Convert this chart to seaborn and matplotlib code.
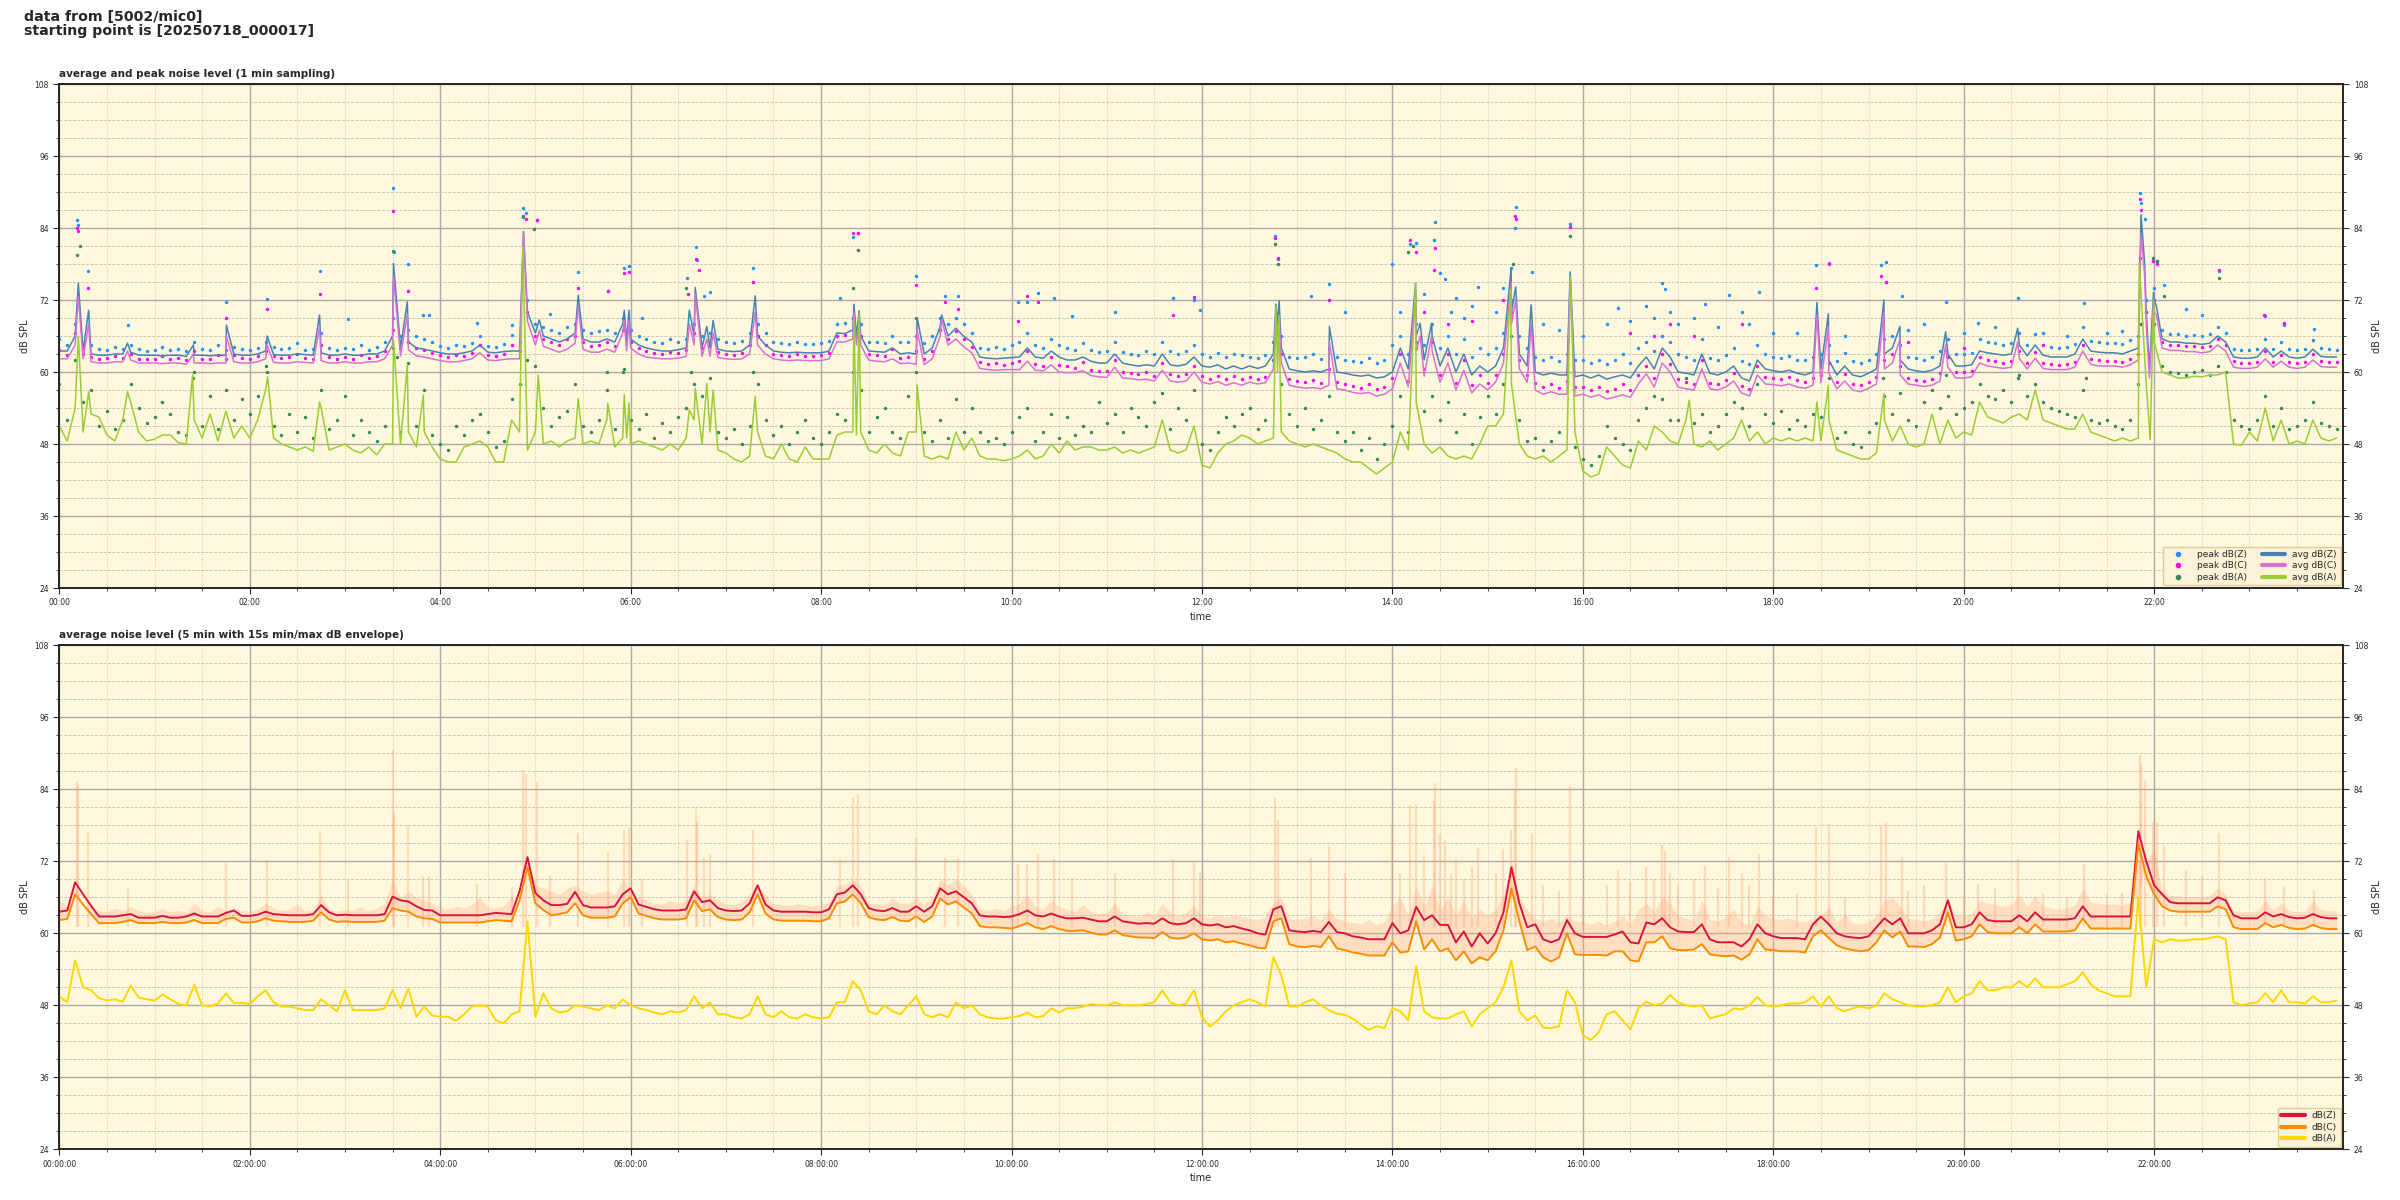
import numpy as np
import matplotlib
matplotlib.use("Agg")
import matplotlib.pyplot as plt
from matplotlib.ticker import MultipleLocator, FuncFormatter
from matplotlib.lines import Line2D
import seaborn as sns

# ---------------- data (minutes after 00:00) ----------------
t5 = np.arange(0, 1440, 5)  # 5-min grid, 288 points

# top panel: 1-min averages, read on a 5-min grid (one row = one hour)
avg_z = [
    63.5, 63.5, 66, 63.5, 63, 62.8, 62.8, 63, 63, 63.3, 62.8, 62.8,
    62.8, 62.7, 62.8, 62.8, 62.6, 62.8, 62.8, 62.7, 62.8, 62.8, 63.0, 62.8,
    62.8, 63, 63.5, 62.9, 62.8, 62.8, 63, 62.9, 62.8, 63.2, 62.8, 62.8,
    63, 62.8, 62.8, 63, 63, 63.5, 66, 64, 65, 64, 63.8, 63.5,
    63.2, 63, 63, 63.2, 63.5, 64.5, 63.3, 63.2, 63.4, 63.5, 63.5, 70,
    66.5, 66, 65.5, 65, 65.5, 66.5, 65.5, 65, 65, 65.5, 65, 68,
    65.5, 64.5, 64, 63.7, 63.5, 63.5, 63.7, 64, 66, 64, 64, 63.8,
    63.5, 63.4, 63.5, 64.5, 66, 64.5, 63.5, 63.3, 63.2, 63.3, 63.2, 63.2,
    63.2, 63.5, 66.5, 66.4, 67, 66, 63.5, 63.4, 63.3, 64, 63, 63.2,
    63, 63, 64, 67.5, 66, 67.3, 65.9, 65, 62.5, 62.3, 62.2, 62.3,
    62.4, 62.5, 64, 62.5, 62.3, 63.5, 62.5, 62, 62, 62.5, 61.8, 61.5,
    61.5, 63, 61.5, 61.2, 61, 61.2, 61, 63, 61.2, 61, 61.3, 62.5,
    61, 60.8, 61.2, 60.5, 61, 60.5, 61, 60.6, 61, 63, 64, 60.5,
    60.2, 60, 60.2, 60, 60.5, 60, 59.8, 59.5, 59.3, 59.5, 59, 59.2,
    60, 64, 60.5, 66, 62, 66, 61, 64, 60, 63, 59.5, 61,
    60, 61, 64, 70, 63, 61, 60, 59.5, 59.8, 59.5, 59.5, 59.2,
    59.5, 59, 59.5, 58.8, 59.2, 59.5, 59, 61, 62.5, 60.5, 64, 62.5,
    60, 59.8, 59.5, 63, 59.8, 59.5, 60, 61, 59, 58.5, 62, 60.5,
    60.2, 60, 60.3, 59.8, 59.5, 60, 60.5, 62, 59.5, 61, 59.5, 59.2,
    59.8, 60.5, 63, 64, 62, 60.5, 60.2, 60, 60.3, 61, 63, 61,
    61, 61.2, 63.5, 63.2, 63, 62.8, 63, 64.5, 62.7, 64.5, 62.8, 62.5,
    62.5, 62.5, 63, 65.5, 63.5, 63.3, 63.2, 63.2, 63, 63.5, 64, 70,
    72, 65.5, 65, 65, 64.8, 64.8, 64.6, 64.8, 66, 65, 62.5, 62.3,
    62.3, 62.5, 64, 62.5, 63.5, 62.5, 62.3, 62.5, 63.8, 62.6, 62.5, 62.5,
]
avg_c = [
    62.2, 62.2, 64.5, 62.2, 61.7, 61.5, 61.5, 61.7, 61.7, 62, 61.5, 61.5,
    61.5, 61.4, 61.5, 61.5, 61.3, 61.5, 61.5, 61.4, 61.5, 61.5, 61.7, 61.5,
    61.5, 61.7, 62.2, 61.6, 61.5, 61.5, 61.7, 61.6, 61.5, 61.9, 61.5, 61.5,
    61.7, 61.5, 61.5, 61.7, 61.7, 62.2, 64.5, 62.7, 63.7, 62.7, 62.5, 62.2,
    61.9, 61.7, 61.7, 61.9, 62.2, 63.2, 62, 61.9, 62.1, 62.2, 62.2, 68.5,
    64.5, 64.3, 63.8, 63.3, 63.8, 64.8, 63.8, 63.3, 63.3, 63.8, 63.3, 66.5,
    64, 63, 62.5, 62.3, 62.2, 62.2, 62.3, 62.6, 64.5, 62.6, 62.6, 62.4,
    62.2, 62.1, 62.2, 63, 64.5, 63, 62.2, 62, 61.9, 62, 61.9, 61.9,
    61.9, 62.2, 65, 65, 65.5, 64.5, 62, 61.8, 61.7, 62.2, 61.4, 61.5,
    61.3, 61.2, 62.2, 66, 64.5, 65.5, 64.2, 63.2, 60.6, 60.4, 60.3, 60.4,
    60.4, 60.4, 61.8, 60.3, 60.2, 61.2, 60, 59.9, 59.9, 60.2, 59.4, 59.2,
    59.1, 60.8, 59, 58.9, 58.7, 58.8, 58.5, 60.3, 58.5, 58.3, 58.5, 60,
    58.3, 58, 58.4, 57.8, 58.2, 57.8, 58.3, 58, 58.2, 60.5, 61.5, 57.8,
    57.5, 57.3, 57.4, 57.2, 57.8, 57.2, 57, 56.6, 56.4, 56.6, 56, 56.3,
    57.2, 61.5, 57.5, 63.5, 59.3, 63.5, 58.3, 61.5, 57, 60.3, 56.5, 58,
    57, 58.3, 61.5, 68, 60.5, 58.3, 57, 56.3, 56.7, 56.3, 56.3, 56,
    56.3, 55.8, 56.2, 55.5, 55.8, 56.2, 55.8, 58, 59.7, 57.5, 61.5, 60,
    57.5, 57.2, 57, 60.5, 57.2, 57, 57.5, 58.5, 56.5, 56, 59.5, 58,
    57.9, 57.7, 58, 57.5, 57.3, 57.8, 58.2, 59.8, 57.2, 58.5, 57, 56.7,
    57.3, 58, 60.5, 61.5, 59.5, 58, 57.8, 57.6, 57.8, 58.5, 60.8, 59,
    59, 59.2, 61.5, 61, 60.8, 60.6, 60.8, 62.3, 60.5, 62.3, 60.6, 60.4,
    60.4, 60.4, 60.8, 63.5, 61.3, 61, 61, 61, 60.8, 61.2, 62, 68,
    70, 64, 63.6, 63.6, 63.4, 63.4, 63.2, 63.4, 64.5, 63.5, 60.8, 60.6,
    60.6, 60.8, 62.2, 60.8, 61.8, 60.8, 60.6, 60.8, 62, 60.9, 60.8, 60.8,
]
avg_a = [
    51, 48.5, 54, 50, 53, 52.5, 49.5, 48.5, 52, 55, 50, 48.5,
    48.8, 49.5, 49.5, 48.2, 48, 52, 49, 53, 48.5, 53.5, 49, 51,
    49, 52, 57, 49, 48, 47.5, 47, 47.5, 46.8, 54, 47, 47.5,
    48, 47, 46.5, 47.5, 46.2, 48, 48, 48, 50, 47.5, 50, 47.5,
    45.5, 45, 45, 47.5, 48, 48.5, 47.5, 45, 45, 52, 50, 47,
    50, 48, 48.5, 47.5, 48.5, 49, 48, 48.5, 48, 52, 47.5, 49,
    48, 48.5, 48, 47.5, 47, 48, 47, 49, 52, 48, 50, 47,
    46.5, 45.5, 45, 46, 50, 46, 45.5, 48, 45.5, 45, 47.5, 45.5,
    45.5, 45.5, 49.5, 50, 50, 50, 47, 46.5, 48, 46.5, 46, 50,
    50, 46, 45.5, 46, 45.5, 50, 47, 49, 46, 45.5, 45.5, 45.2,
    45.5, 46, 47, 45.5, 46, 48, 46.5, 48.5, 47, 47.5, 47.5, 47,
    47, 47.5, 46.5, 47, 46.5, 47, 47.5, 52, 47, 46.5, 47, 51,
    44.5, 44, 46.5, 48, 48.5, 49.5, 49, 48, 48.5, 49, 50, 48.5,
    48, 47.5, 48, 47.5, 47, 46.5, 45.5, 45, 45, 44, 43, 44,
    45, 50, 47, 55, 48, 46.5, 47.5, 46, 45.5, 46, 45.5, 48,
    51, 51, 53, 58, 48, 46, 45.5, 46, 45, 46, 47, 50,
    43.5, 42.5, 43, 47.5, 46, 44.5, 44, 48.5, 47, 51, 50, 48.5,
    48, 52, 48, 47.5, 48.5, 47, 48, 49, 52, 48.5, 50, 48,
    49, 48.5, 49, 48.5, 49, 48.5, 48.5, 52, 47, 46.5, 46, 45.5,
    45.5, 46.5, 52, 48.5, 51, 48, 47.5, 48, 53, 48, 52, 49,
    50, 49.5, 55, 52.5, 52, 51.5, 52.5, 53, 52, 57, 52, 51.5,
    51, 50.5, 50.5, 53, 50, 49.5, 49, 48.5, 49, 48.5, 49, 58,
    65, 60, 59.5, 59, 59, 59.3, 59.2, 59.5, 59.5, 60, 48, 47.8,
    50, 48.5, 54, 48.5, 52, 48, 48.5, 48, 52, 49, 48.5, 49,
]

# short spikes of the 1-min averages (minute, dB)
spk_z_t = [12, 18.5, 43, 84.5, 105.3, 131, 164, 210.6, 219.3, 292.5, 302.5, 327, 356, 357.5, 359,
           397, 400.7, 408, 412, 438.5, 500.7, 502.3, 504, 540.5, 556, 766.6, 767.6, 768.6, 800.3,
           854.6, 857.5, 864.7, 914.8, 917.7, 927.4, 952, 1107.5, 1114.7, 1149.7, 1159.8, 1188.6,
           1234, 1311.7, 1314, 1317, 1319.6, 1321.4]
spk_z_v = [74.8, 70.3, 64.8, 64.5, 67.8, 66, 69.5, 78.1, 71.7, 83.4, 68.7, 72.8, 70.3, 65, 70.3,
           70.3, 74.1, 67.6, 68.6, 72.7, 71.3, 66, 70.2, 69.1, 69.5, 71.3, 68, 71.9, 67.6,
           74.8, 68.1, 68.1, 77.3, 74.2, 71.2, 76.7, 71.6, 69.7, 72, 67.6, 66.7,
           67.3, 86.2, 78, 60.5, 73.2, 71]
spk_c_t = spk_z_t
spk_c_v = [72.6, 68, 63.5, 63, 66, 64.5, 67.5, 76, 69.5, 83, 67, 71, 68.5, 63.5, 68.5,
           68, 73, 65.5, 66.5, 70, 70, 64.5, 69, 67, 68.7, 69, 66, 69.5, 65,
           73, 66, 66, 75, 72, 68, 75.5, 69.5, 67.5, 70, 65.5, 64.5,
           65, 83.1, 76, 59, 71.5, 69.5]
spk_a_t = [12, 18.5, 43, 84, 131.3, 164, 210.6, 219.3, 229.4, 292.1, 301.8, 327, 345.6, 356, 357.5,
           359, 397, 400.7, 408, 412, 438.5, 500.7, 502.3, 504, 540.5, 766.6, 767.6, 768.5, 854.6,
           914.6, 952.2, 1027, 1107.5, 1114.7, 1149.7, 1310.6, 1317.5, 1319.6]
spk_a_v = [66, 56.7, 56.7, 59.5, 59.2, 55, 65.3, 61.2, 56.2, 80.9, 59.5, 55.6, 54.8, 56.2, 49,
           54.8, 53.7, 57.3, 58.1, 57, 55.9, 68.7, 49.5, 69.8, 57.8, 70.9, 60, 69.2, 74.8,
           73.7, 75.9, 55.3, 55, 57.8, 56.4, 78.1, 48.7, 72]

# top panel: 1-min peaks, read on the 5-min grid
peak_z = [
    65.5, 64.5, 68, 64.5, 64.5, 63.8, 63.6, 64.2, 63.8, 64.5, 63.8, 63.5,
    63.6, 64.2, 63.6, 63.8, 63.5, 65, 63.8, 63.6, 64.5, 63.6, 64.2, 63.8,
    63.7, 64, 65, 64.2, 63.8, 64, 64.8, 63.7, 63.8, 66.5, 64, 63.7,
    64, 63.8, 64.5, 63.7, 64.2, 65, 69, 66, 67, 66, 65.5, 65,
    64.3, 64, 64.5, 64.3, 64.8, 66, 64.4, 64.2, 64.6, 66.2, 65, 72,
    68, 67.5, 67, 66.5, 67.5, 68, 67, 66.5, 66.8, 67, 66.5, 69,
    67, 66, 65.5, 65, 64.8, 65.5, 65, 65.5, 68, 66, 66.5, 65.5,
    65, 64.8, 65.2, 66.5, 68, 66.5, 65, 64.8, 64.6, 65, 64.7, 64.6,
    64.8, 65.2, 68, 68.2, 69, 68, 65, 65, 64.8, 66, 65, 65,
    66, 64.8, 66, 69, 68, 69, 68, 66.5, 64, 63.8, 64.2, 63.8,
    64.5, 65, 66.5, 64.5, 64, 65.5, 64.5, 64, 63.6, 64.8, 63.6, 63.3,
    63.5, 65, 63.3, 63, 62.8, 63.5, 63, 65, 63.5, 63, 63.5, 64.5,
    63, 62.5, 63.2, 62.5, 63, 62.8, 62.5, 62.3, 62.8, 65, 66, 62.5,
    62.3, 62.5, 63, 62.2, 64, 62.5, 62, 61.8, 61.6, 62.3, 61.5, 62,
    64.5, 66, 63, 68, 64.5, 68, 64, 66, 63, 65.5, 62.5, 64,
    63, 64, 66.5, 72, 66, 64, 62.5, 62, 62.5, 61.8, 63, 62,
    62, 61.5, 62, 61.3, 62, 63, 61.5, 64, 65, 63.5, 66, 65,
    63, 62.5, 62, 65.5, 62.3, 62, 62.8, 64, 61.8, 61.3, 64.5, 63,
    62.5, 62.3, 62.6, 62, 62, 62.5, 63, 64.5, 61.8, 63.2, 61.8, 61.5,
    62, 63, 65.5, 66, 64.5, 62.5, 62.3, 62, 62.5, 63.5, 65.5, 63,
    63, 63.2, 65.5, 65, 64.8, 64.5, 64.8, 66.5, 64.5, 66.3, 64.5, 64.2,
    64, 64.2, 64.7, 67.5, 65.2, 65, 64.8, 64.9, 64.6, 65.3, 66, 72,
    74, 67, 66.3, 66.3, 66, 66.2, 66, 66.3, 67.5, 66.5, 63.8, 63.6,
    63.6, 63.8, 65.5, 63.8, 65, 63.8, 63.6, 63.8, 65.3, 64, 63.8, 63.7,
]
peak_c = [
    63.6, 62.9, 66.5, 63, 62.5, 62.2, 62.3, 62.6, 62.4, 63, 62.2, 62.2,
    62.2, 62.6, 62.2, 62.3, 62, 63.5, 62.2, 62.1, 62.8, 62.2, 62.8, 62.3,
    62.2, 62.6, 63.5, 62.6, 62.3, 62.5, 63, 62.3, 62.2, 64.5, 62.5, 62.2,
    62.5, 62.2, 62.8, 62.3, 62.6, 63.5, 67, 64, 65, 64, 63.6, 63.2,
    62.8, 62.5, 62.9, 62.7, 63.2, 64.5, 62.8, 62.6, 63, 64.5, 63.5, 70,
    66, 65.5, 65, 64.5, 65.5, 66, 65, 64.3, 64.5, 65, 64.4, 67,
    65, 64, 63.5, 63.2, 63, 63.4, 63.2, 63.6, 66.5, 64, 64.5, 63.4,
    63, 62.9, 63.2, 64.5, 66, 64.5, 63, 62.8, 62.6, 63, 62.7, 62.6,
    62.8, 63.2, 66, 66.2, 67, 66, 63, 62.8, 62.6, 63.8, 62.4, 62.5,
    63.5, 62.2, 63.5, 67, 65.5, 66.8, 65.5, 64.2, 61.6, 61.3, 61.5, 61.2,
    61.5, 61.8, 63.5, 61.3, 61, 62.5, 61.2, 61, 60.7, 61.6, 60.4, 60.2,
    60.2, 62, 60, 59.8, 59.6, 60, 59.4, 61.5, 59.6, 59.3, 59.7, 61,
    59.3, 58.9, 59.4, 58.8, 59.4, 58.8, 59.2, 58.9, 59.2, 62, 63, 58.8,
    58.5, 58.3, 58.6, 58.2, 60.5, 58.3, 58, 57.6, 57.4, 58, 57.2, 57.5,
    59, 63, 58.5, 65, 60.5, 65, 59.5, 63, 58.2, 62, 57.8, 59.5,
    58.2, 59.5, 63, 70, 62, 59.5, 58.2, 57.5, 58, 57.4, 58.5, 57.5,
    57.5, 57, 57.5, 56.8, 57.2, 58, 57, 59.5, 61, 59, 63, 61.3,
    58.8, 58.3, 58, 62, 58.2, 58, 58.6, 59.8, 57.6, 57.2, 61, 59.2,
    59, 58.8, 59.2, 58.6, 58.3, 59, 59.5, 61.5, 58.3, 59.6, 58, 57.8,
    58.3, 59.2, 62, 63, 61, 59, 58.7, 58.5, 58.8, 59.8, 62.5, 60,
    60, 60.2, 62.5, 62, 61.8, 61.5, 61.8, 63.5, 61.5, 63.3, 61.5, 61.3,
    61.2, 61.3, 61.7, 64.5, 62.2, 62, 61.8, 61.9, 61.6, 62.2, 63, 70,
    72, 65, 64.5, 64.5, 64.3, 64.4, 64.2, 64.4, 65.5, 64.5, 61.8, 61.5,
    61.5, 61.7, 63.5, 61.7, 62.8, 61.7, 61.5, 61.7, 63, 61.8, 61.6, 61.6,
]
peak_a = [
    58, 52, 62, 55, 57, 51, 53.5, 50.5, 52, 58, 54, 51.5,
    52.5, 55, 53, 50, 49.5, 60, 51, 56, 50.5, 57, 52, 55.5,
    53, 56, 61, 51, 49.5, 53, 50, 52.5, 49, 57, 50.5, 52,
    56, 49.5, 52, 50, 48.5, 51, 64, 50, 61.5, 51, 57, 49.5,
    48, 47, 51, 49.5, 52, 53, 50, 47.5, 48.5, 55.5, 58, 62,
    61, 54, 51, 52.5, 53.5, 58, 51, 50, 52, 57, 50.5, 60,
    52, 50.5, 53, 49, 51.5, 50, 52.5, 54, 58, 56, 59, 50,
    49, 50.5, 48, 51, 58, 52, 49.5, 51, 48, 50, 52, 49,
    48, 50, 53, 52, 60, 57, 50, 52.5, 54, 50, 49, 56,
    60, 50, 48.5, 52, 49, 55.5, 50, 54, 50, 48.5, 49, 48,
    50, 52.5, 54, 48.5, 50, 53, 49, 52.5, 49.5, 51, 50, 55,
    51.5, 53, 50, 54, 52.5, 51, 55, 56.5, 50.5, 54, 52, 57,
    48, 47, 50, 52.5, 51, 53, 54, 50.5, 52, 62, 58, 53,
    51, 54, 50.5, 52, 56, 50, 48.5, 50, 47, 49, 45.5, 48,
    51, 56, 50, 64, 53.5, 56, 52, 55, 50, 53, 48, 52.5,
    56, 53, 58, 66, 52, 48.5, 49, 47, 48.5, 50, 60, 47.5,
    45.5, 44.5, 46, 51, 49, 48, 47, 52, 54, 56, 55.5, 52,
    52, 59, 51.5, 53, 50, 51, 53, 55, 54, 51, 58, 53,
    51.5, 53.5, 50.5, 52, 51, 53, 52.5, 59, 49, 50, 48, 47.5,
    50, 51.5, 56, 53, 56.5, 52, 51, 55, 57, 54, 56, 53,
    54, 55, 58, 56, 55.5, 57, 55, 59.5, 56, 58, 55, 54,
    53.5, 53, 52.5, 57, 52, 51.5, 52, 51, 50.5, 52, 58, 70,
    68, 61, 60, 59.8, 59.5, 60, 60.3, 59.5, 61, 60, 52, 51,
    50.5, 52, 56, 51, 54, 50.5, 51, 52, 55, 51.5, 51, 50.5,
]
# isolated loud 1-min peaks (minute, dB)
out_z_t = [11, 12, 18, 43, 105, 131, 164, 182, 210, 211, 219.5, 229, 233, 263, 285, 292.5, 294, 301,
           309, 327, 345.6, 356, 359, 367, 395.7, 401, 402, 406, 410, 437, 492, 500, 503, 540, 558,
           566, 604, 610, 617, 627, 638, 665, 702, 715, 719, 766, 768, 789, 800, 810, 840, 845, 851,
           855, 860, 866, 867, 870, 873, 877, 880, 885, 890, 894, 905, 910, 915, 917, 918, 928, 935,
           945, 952, 960, 975, 982, 990, 1000, 1005, 1010, 1012, 1015, 1020, 1030, 1037, 1045, 1052,
           1060, 1065, 1071, 1080, 1095, 1107, 1115, 1125, 1148, 1151, 1161, 1165, 1175, 1189, 1200,
           1209, 1220, 1234, 1250, 1265, 1276, 1290, 1300, 1311, 1312, 1314, 1319, 1322, 1326, 1340,
           1350, 1361, 1390, 1402, 1421]
out_z_v = [85.3, 84.5, 76.9, 67.8, 71.7, 72.2, 76.9, 68.9, 90.6, 80.0, 78.0, 69.5, 69.5, 68.2, 67.8, 87.3, 86.5, 85.3,
           69.7, 76.7, 73.5, 77.3, 77.6, 69.0, 75.6, 80.8, 78.6, 72.6, 73.3, 77.3, 72.4, 82.5, 83.2, 76.0, 72.6,
           72.6, 71.6, 71.6, 73.2, 72.4, 69.3, 70.0, 72.4, 72.0, 70.3, 82.6, 78.9, 72.6, 74.6, 70.0, 78.0, 70, 81.4,
           81.5, 73, 82.0, 85.0, 76.5, 75.5, 70, 72.4, 69, 71, 74.2, 70, 74, 77.3, 84.0, 87.5, 76.7, 68,
           67, 84.6, 66, 68, 70.6, 68.5, 71, 69, 74.8, 73.8, 70, 68, 69, 71.3, 67.5, 72.8,
           70, 68, 73.3, 66.5, 66.5, 77.8, 78.2, 66, 77.9, 78.4, 72.7, 67, 68, 71.7, 66.5,
           68.2, 67.5, 72.4, 66.5, 66, 71.5, 66.5, 66.8, 89.8, 88.1, 85.5, 78.5, 78.5, 74.5, 70.5,
           69.5, 76.8, 69.3, 67.8, 67.2]
out_c_t = [11, 12, 18, 105, 131, 164, 210, 219.5, 292.5, 294, 301, 327, 345.6, 356, 359, 396, 401, 403,
           437, 500, 503, 540, 558, 566, 604, 610, 617, 702, 715, 766, 768, 800, 851, 855, 860, 866,
           867, 875, 890, 910, 917, 918, 952, 990, 1005, 1015, 1030, 1060, 1107, 1115, 1148, 1151,
           1165, 1200, 1250, 1311, 1312, 1319, 1322, 1361, 1389, 1402]
out_c_v = [84.0, 83.5, 74.0, 69.0, 70.5, 73.0, 86.8, 73.5, 86.0, 85.5, 85.3, 74.0, 73.5, 76.5, 76.7, 73.0, 78.8, 77.0,
           75.0, 83.2, 83.2, 74.5, 71.6, 70.5, 68.5, 72.6, 71.6, 69.5, 72.5, 82.3, 79.0, 72.0, 82.0, 80.0, 70, 77.0,
           80.7, 68, 68.5, 72, 86.0, 85.5, 84.2, 66.5, 66, 68, 66, 68, 74.0, 78.0, 76.0, 75.0,
           65, 64, 64.5, 88.8, 87.0, 78.5, 78.0, 77.0, 69.5, 68.2]
out_a_t = [11, 13, 84, 131, 210.5, 213, 292.5, 299, 345, 356, 395, 398, 437, 500, 503, 540, 766, 768,
           850, 853, 916, 952, 1149, 1189, 1234, 1277, 1311, 1312, 1319, 1322, 1326, 1361]
out_a_v = [79.5, 81, 59, 60, 80.2, 62.5, 85.8, 83.9, 60, 60.5, 74, 60, 60, 74, 80.3, 69, 81.3, 78,
           80, 81, 78, 82.6, 59, 59.5, 59, 59, 79, 68, 79, 78.5, 72.7, 75.6]

# bottom panel: 5-min averages
bot_z = [
    63.6, 63.8, 68.5, 66.5, 64.6, 62.8, 62.8, 62.8, 63.0, 63.2, 62.6, 62.6,
    62.6, 62.9, 62.6, 62.6, 62.8, 63.3, 62.8, 62.8, 62.8, 63.4, 63.8, 62.9,
    62.9, 63.1, 63.6, 63.2, 63.1, 63.0, 63.0, 63.0, 63.2, 64.7, 63.5, 63.0,
    63.1, 63.0, 63.0, 63.0, 63.0, 63.2, 66.1, 65.5, 65.3, 64.5, 63.9, 63.8,
    63.0, 63.0, 63.0, 63.0, 63.0, 63.0, 63.2, 63.4, 63.3, 63.2, 67.0, 72.7,
    66.7, 65.5, 64.7, 64.7, 64.9, 66.9, 64.7, 64.3, 64.3, 64.3, 64.5, 66.5,
    67.5, 64.8, 64.4, 64.0, 63.8, 63.8, 63.8, 64.0, 67.0, 65.2, 65.5, 64.2,
    63.8, 63.7, 63.8, 65.0, 68.0, 64.8, 63.8, 63.6, 63.6, 63.6, 63.6, 63.5,
    63.5, 64.0, 66.5, 66.8, 68.0, 66.5, 64.2, 63.8, 63.7, 64.2, 63.6, 63.6,
    64.5, 63.6, 64.5, 67.5, 66.5, 67.0, 66.0, 65.0, 63.0, 62.8, 62.8, 62.7,
    62.8, 63.2, 63.8, 63.0, 62.8, 63.3, 62.8, 62.5, 62.5, 62.6, 62.3, 62.0,
    62.0, 62.8, 62.0, 61.8, 61.6, 61.7, 61.6, 62.5, 61.7, 61.5, 61.7, 62.5,
    61.5, 61.3, 61.5, 61.0, 61.2, 60.8, 60.5, 60.0, 59.8, 64.0, 64.5, 60.5,
    60.3, 60.2, 60.4, 60.2, 61.9, 60.2, 60.0, 59.5, 59.3, 59.0, 59.0, 59.0,
    61.7, 60.0, 60.5, 64.4, 62.2, 63.0, 61.4, 61.4, 58.5, 60.3, 57.8, 60.0,
    58.3, 60.0, 63.5, 71.0, 65.0, 61.0, 61.5, 59.0, 58.5, 59.0, 62.2, 60.0,
    59.4, 59.4, 59.4, 59.4, 59.8, 60.3, 58.5, 58.3, 61.8, 61.5, 62.5, 61.0,
    60.3, 60.2, 60.2, 61.5, 59.0, 58.5, 58.5, 58.5, 57.8, 59.0, 61.5, 60.0,
    59.5, 59.2, 59.2, 59.2, 59.0, 61.5, 62.8, 61.5, 60.0, 59.5, 59.3, 59.2,
    59.5, 61.0, 62.5, 61.5, 62.5, 60.0, 60.0, 60.0, 60.5, 61.5, 65.5, 61.0,
    61.0, 61.5, 63.5, 62.2, 62.0, 62.0, 62.0, 63.0, 62.0, 63.5, 62.3, 62.3,
    62.3, 62.3, 62.5, 64.5, 62.8, 62.8, 62.8, 62.8, 62.8, 62.8, 77.0, 72.0,
    68.0, 66.5, 65.2, 65.0, 65.0, 65.0, 65.0, 65.0, 66.0, 65.5, 63.0, 62.5,
    62.5, 62.5, 63.5, 62.8, 63.2, 62.7, 62.5, 62.6, 63.2, 62.7, 62.5, 62.5,
]
bot_c = [
    62.2, 62.4, 66.5, 64.8, 63.2, 61.7, 61.7, 61.7, 61.9, 62.2, 61.7, 61.7,
    61.7, 61.9, 61.7, 61.7, 61.8, 62.2, 61.7, 61.7, 61.7, 62.4, 62.6, 61.8,
    61.8, 62.0, 62.5, 62.1, 62.0, 61.9, 61.9, 61.9, 62.1, 63.5, 62.3, 61.9,
    62.0, 61.9, 61.9, 61.9, 61.9, 62.1, 64.2, 63.8, 63.6, 62.8, 62.5, 62.4,
    61.8, 61.8, 61.8, 61.8, 61.8, 61.8, 62.0, 62.2, 62.1, 62.0, 65.5, 71.0,
    65.0, 63.9, 63.0, 63.2, 63.5, 65.0, 63.0, 62.6, 62.6, 62.6, 62.8, 65.0,
    66.0, 63.3, 62.9, 62.5, 62.3, 62.3, 62.3, 62.5, 65.5, 63.7, 64.0, 62.7,
    62.3, 62.2, 62.3, 63.5, 66.5, 63.3, 62.3, 62.1, 62.1, 62.1, 62.1, 62.0,
    62.0, 62.5, 65.0, 65.3, 66.5, 65.0, 62.7, 62.3, 62.2, 62.7, 62.1, 62.0,
    62.8, 61.9, 62.8, 65.8, 64.8, 65.3, 64.3, 63.3, 61.2, 61.0, 61.0, 60.9,
    60.8, 61.2, 61.7, 61.0, 60.7, 61.2, 60.7, 60.4, 60.4, 60.5, 60.1, 59.8,
    59.8, 60.5, 59.7, 59.5, 59.3, 59.3, 59.2, 60.2, 59.3, 59.1, 59.3, 60.0,
    59.0, 58.8, 59.0, 58.5, 58.7, 58.3, 58.0, 57.6, 57.5, 62.0, 62.5, 58.2,
    57.8, 57.7, 57.9, 57.7, 59.5, 57.5, 57.2, 56.8, 56.6, 56.3, 56.3, 56.3,
    58.5, 56.8, 57.0, 62.0, 57.3, 59.0, 57.0, 57.5, 55.5, 57.0, 55.0, 56.0,
    55.5, 57.0, 60.5, 67.5, 62.0, 57.2, 57.8, 56.0, 55.3, 56.0, 60.0, 56.5,
    56.4, 56.4, 56.4, 56.3, 57.0, 57.0, 55.5, 55.3, 58.5, 58.5, 59.5, 57.5,
    57.2, 57.2, 57.3, 58.2, 56.5, 56.3, 56.2, 56.3, 55.6, 56.5, 59.0, 57.3,
    57.2, 57.0, 57.0, 57.0, 56.8, 59.5, 60.5, 59.2, 58.0, 57.5, 57.2, 57.0,
    57.2, 58.5, 60.5, 59.3, 60.3, 57.8, 57.8, 57.7, 58.2, 59.3, 63.5, 58.8,
    59.0, 59.5, 61.5, 60.2, 60.0, 60.0, 60.0, 61.0, 60.0, 61.5, 60.3, 60.3,
    60.3, 60.3, 60.5, 62.5, 60.8, 60.8, 60.8, 60.8, 60.8, 60.8, 75.0, 69.5,
    66.5, 64.5, 63.8, 63.6, 63.6, 63.6, 63.6, 63.6, 64.5, 64.0, 61.0, 60.7,
    60.7, 60.7, 61.7, 61.0, 61.4, 60.9, 60.7, 60.8, 61.4, 60.9, 60.7, 60.7,
]
bot_a = [
    49.5, 48.5, 55.5, 51, 50.5, 49.2, 48.8, 49.0, 48.6, 51.3, 49.3, 49.0,
    48.8, 49.8, 49.0, 48.2, 48.0, 51.4, 48.0, 47.8, 48.3, 50.0, 48.4, 48.4,
    48.2, 49.5, 50.5, 48.5, 47.8, 47.8, 47.5, 47.2, 47.2, 49.0, 48.0, 47.0,
    50.5, 47.2, 47.2, 47.2, 47.2, 47.5, 50.5, 47.5, 50.8, 46.1, 47.8, 46.3,
    46.1, 46.1, 45.4, 46.5, 47.8, 48.0, 47.8, 45.5, 45.0, 46.5, 47.0, 62.0,
    46.1, 50.0, 47.5, 46.8, 47.0, 48.0, 47.8, 47.5, 47.2, 48.0, 47.5, 49.0,
    48.0, 47.5, 47.2, 46.8, 46.5, 47.0, 46.8, 47.2, 49.5, 47.5, 48.5, 46.5,
    46.5, 46.0, 45.8, 46.5, 49.5, 46.5, 46.0, 47.0, 46.0, 45.8, 46.5, 46.0,
    45.8, 46.0, 48.5, 48.5, 52.0, 50.5, 47.0, 46.5, 48.0, 47.0, 46.5, 48.0,
    49.5, 46.5, 46.0, 46.5, 46.0, 48.5, 47.5, 48.0, 46.5, 46.0, 45.8, 45.8,
    46.0, 46.2, 46.8, 46.0, 46.2, 47.5, 46.8, 47.5, 47.5, 47.8, 48.2, 48.0,
    48.0, 48.5, 48.0, 48.0, 48.0, 48.2, 48.5, 50.5, 48.5, 48.0, 48.3, 50.5,
    46.0, 44.5, 45.5, 47.0, 48.0, 48.5, 49.0, 48.5, 47.8, 56.0, 53.0, 47.8,
    47.8, 48.5, 49.0, 48.0, 47.2, 46.6, 46.4, 45.8, 44.8, 43.9, 44.5, 44.2,
    47.5, 47.0, 45.5, 54.5, 47.0, 46.0, 45.8, 45.8, 46.5, 47.0, 44.5, 46.5,
    47.5, 48.5, 51.0, 55.5, 47.0, 45.5, 46.3, 44.3, 44.2, 44.5, 50.5, 48.5,
    43.0, 42.2, 43.5, 46.5, 47.0, 45.5, 44.0, 47.5, 48.6, 48.0, 48.3, 49.7,
    48.5, 48.0, 47.8, 48.0, 45.8, 46.2, 46.5, 47.5, 47.3, 48.0, 49.4, 48.0,
    47.8, 48.0, 48.3, 48.3, 48.5, 49.5, 47.8, 49.5, 47.5, 47.0, 47.5, 47.8,
    47.5, 48.0, 50.0, 49.0, 48.5, 48.0, 47.8, 47.8, 48.0, 48.5, 51.0, 48.5,
    49.5, 50.0, 52.0, 50.5, 50.5, 51.0, 51.0, 52.0, 51.0, 52.5, 51.0, 51.0,
    51.0, 51.5, 52.0, 53.5, 51.5, 50.5, 50.0, 49.5, 49.5, 49.5, 66.0, 51.0,
    59.0, 58.5, 59.0, 58.8, 58.8, 59.0, 59.0, 59.2, 59.5, 59.0, 48.5, 48.0,
    48.3, 48.5, 50.0, 48.5, 50.5, 48.5, 48.5, 48.3, 49.5, 48.5, 48.5, 48.8,
]

for _name, _arr in [("avg_z", avg_z), ("avg_c", avg_c), ("avg_a", avg_a), ("peak_z", peak_z),
                    ("peak_c", peak_c), ("peak_a", peak_a), ("bot_z", bot_z), ("bot_c", bot_c),
                    ("bot_a", bot_a)]:
    assert len(_arr) == len(t5), (_name, len(_arr))
assert len(spk_z_t) == len(spk_z_v) == len(spk_c_v)
assert len(spk_a_t) == len(spk_a_v)
assert len(out_z_t) == len(out_z_v)
assert len(out_c_t) == len(out_c_v)
assert len(out_a_t) == len(out_a_v)

# ---------------- style ----------------
sns.set_style("ticks")
plt.rcParams["font.family"] = ["DejaVu Sans"]

BG = "#fff8dc"
C_PZ, C_PC, C_PA = "#1e90ff", "#ff00ff", "#2e8b57"
C_AZ, C_AC, C_AA = "#4682b4", "#da70d6", "#9acd32"
C_BZ, C_BC, C_BA = "#dc143c", "#ff8c00", "#ffd700"
X0, X1 = 0.0, 1439.2


def merged(base, xt, xv):
    x = np.concatenate([t5, np.asarray(xt, float)])
    y = np.concatenate([np.asarray(base, float), np.asarray(xv, float)])
    o = np.argsort(x, kind="stable")
    return x[o], y[o]


def style_axes(ax, fmt):
    ax.set_facecolor(BG)
    ax.set_xlim(X0, X1)
    ax.set_ylim(24, 108)
    ax.xaxis.set_major_locator(MultipleLocator(120))
    ax.xaxis.set_minor_locator(MultipleLocator(30))
    ax.yaxis.set_major_locator(MultipleLocator(12))
    ax.yaxis.set_minor_locator(MultipleLocator(3))
    ax.xaxis.set_major_formatter(FuncFormatter(fmt))
    ax.grid(which="major", color="#aaaaaa", lw=1.0, zorder=0)
    ax.grid(which="minor", axis="y", color="#c4c0b4", ls="--", lw=0.6, zorder=0)
    ax.grid(which="minor", axis="x", color="#cfc6a8", ls=":", lw=0.7, zorder=0)
    ax.set_axisbelow(True)
    ax.tick_params(which="major", labelsize=5.5, length=4, width=0.8)
    ax.tick_params(which="minor", length=2.5, width=0.6)
    for s in ax.spines.values():
        s.set_color("black")
        s.set_linewidth(1.1)
    ax.set_xlabel("time", fontsize=7, labelpad=3)
    ax.set_ylabel("dB SPL", fontsize=7, labelpad=3)
    ax2 = ax.twinx()
    ax2.set_ylim(24, 108)
    ax2.yaxis.set_major_locator(MultipleLocator(12))
    ax2.yaxis.set_minor_locator(MultipleLocator(3))
    ax2.tick_params(which="major", labelsize=5.5, length=4, width=0.8)
    ax2.tick_params(which="minor", length=2.5, width=0.6)
    ax2.set_ylabel("dB SPL", fontsize=7, labelpad=3)
    ax2.grid(False)
    for s in ax2.spines.values():
        s.set_linewidth(1.1)
    return ax2


fmt_hm = lambda v, p: f"{int(v // 60):02d}:{int(v % 60):02d}"
fmt_hms = lambda v, p: f"{int(v // 60):02d}:{int(v % 60):02d}:00"

fig = plt.figure(figsize=(24, 12), dpi=100, facecolor="white")
fig.text(0.0098, 0.992, "data from [5002/mic0]\nstarting point is [20250718_000017]",
         fontsize=10.2, fontweight="bold", va="top", ha="left", linespacing=1.05)

# ---------------- top panel ----------------
ax = fig.add_axes([0.0247, 0.51, 0.9517, 0.42])
for base, ot, ov, col in [(peak_z, out_z_t, out_z_v, C_PZ), (peak_c, out_c_t, out_c_v, C_PC),
                          (peak_a, out_a_t, out_a_v, C_PA)]:
    px, py = merged(base, ot, ov)
    sns.scatterplot(x=px, y=py, ax=ax, color=col, s=6, linewidth=0, marker="o", zorder=3, legend=False)
for base, st, sv, col in [(avg_z, spk_z_t, spk_z_v, C_AZ), (avg_c, spk_c_t, spk_c_v, C_AC),
                          (avg_a, spk_a_t, spk_a_v, C_AA)]:
    lx, ly = merged(base, st, sv)
    sns.lineplot(x=lx, y=ly, ax=ax, color=col, lw=1.1, estimator=None, sort=False, zorder=4, legend=False)
style_axes(ax, fmt_hm)
ax.set_title("average and peak noise level (1 min sampling)", loc="left", fontsize=7.5,
             fontweight="bold", pad=5)
h_top = [Line2D([], [], ls="", marker="o", ms=3, color=C_PZ),
         Line2D([], [], ls="", marker="o", ms=3, color=C_PC),
         Line2D([], [], ls="", marker="o", ms=3, color=C_PA),
         Line2D([], [], lw=3, color=C_AZ),
         Line2D([], [], lw=3, color=C_AC),
         Line2D([], [], lw=3, color=C_AA)]
l_top = ["peak dB(Z)", "peak dB(C)", "peak dB(A)", "avg dB(Z)", "avg dB(C)", "avg dB(A)"]
leg = ax.legend(h_top, l_top, loc="lower right", ncol=2, fontsize=6.5, frameon=True,
                facecolor="#fdf3d8", edgecolor="#e0c89a", framealpha=0.95,
                borderaxespad=0.3, handlelength=2.6, columnspacing=1.6, labelspacing=0.25,
                handletextpad=0.8)
leg.set_zorder(10)

# ---------------- bottom panel ----------------
bx = fig.add_axes([0.0247, 0.04225, 0.9517, 0.42])
bx.fill_between(t5, bot_c, peak_z, color="lightsalmon", alpha=0.28, lw=0, zorder=2)
bx.vlines(out_z_t, 61, out_z_v, color="lightsalmon", alpha=0.35, lw=1.6, zorder=2)
for arr, col in [(bot_z, C_BZ), (bot_c, C_BC), (bot_a, C_BA)]:
    sns.lineplot(x=t5, y=arr, ax=bx, color=col, lw=1.4, estimator=None, sort=False, zorder=4, legend=False)
style_axes(bx, fmt_hms)
bx.set_title("average noise level (5 min with 15s min/max dB envelope)", loc="left", fontsize=7.5,
             fontweight="bold", pad=5)
h_bot = [Line2D([], [], lw=3, color=C_BZ), Line2D([], [], lw=3, color=C_BC), Line2D([], [], lw=3, color=C_BA)]
leg2 = bx.legend(h_bot, ["dB(Z)", "dB(C)", "dB(A)"], loc="lower right", fontsize=6.5, frameon=True,
                 facecolor="#fdf3d8", edgecolor="#e0c89a", framealpha=0.95, borderaxespad=0.3,
                 handlelength=2.6, labelspacing=0.25, handletextpad=0.8)
leg2.set_zorder(10)

fig.savefig("out.png", dpi=100, facecolor="white")
